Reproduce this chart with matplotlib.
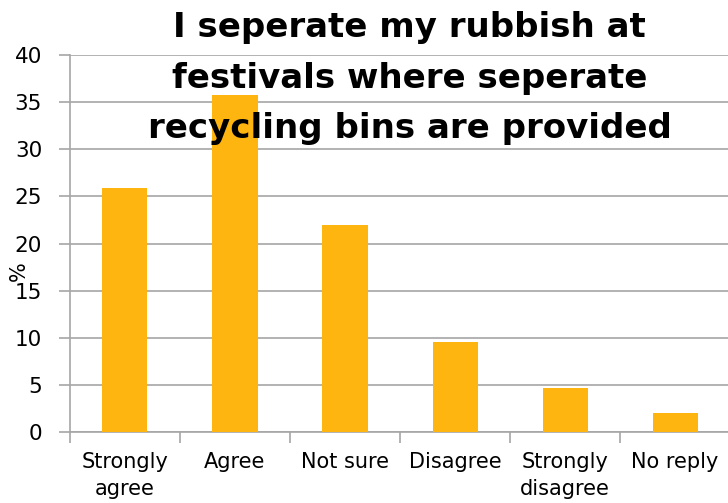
import numpy as np
import matplotlib.pyplot as plt

# survey answers (percent)
categories = ['Strongly\nagree', 'Agree', 'Not sure', 'Disagree', 'Strongly\ndisagree', 'No reply']
percent = [25.9, 35.8, 22.0, 9.6, 4.7, 2.0]
yticks = [0, 5, 10, 15, 20, 25, 30, 35, 40]

plt.rcParams['font.family'] = ['DejaVu Sans']

fig = plt.figure(figsize=(7.28, 5.03), dpi=100)
ax = fig.add_axes([0.096, 0.141, 0.907, 0.7497])

x = np.arange(len(categories))
ax.bar(x, percent, width=0.41, color='#FFB50F', zorder=3)

ax.set_xlim(-0.5, len(categories) - 0.5)
ax.set_ylim(0, 40)
ax.set_yticks(yticks)
ax.set_yticklabels([str(v) for v in yticks], fontsize=15.5)
ax.yaxis.grid(True, color='#A6A6A6', linewidth=1.2, zorder=0)

# category boundaries as tick marks, labels centered under bars
ax.set_xticks(np.arange(len(categories) + 1) - 0.5)
ax.set_xticklabels([])
ax.set_xticks(x, minor=True)
ax.set_xticklabels(categories, minor=True, fontsize=15, linespacing=1.45)
ax.tick_params(axis='x', which='minor', length=0, pad=14)
ax.tick_params(axis='x', which='major', length=8, width=1.2, color='#A6A6A6')
ax.tick_params(axis='y', length=8, width=1.2, color='#A6A6A6', pad=12)

for s in ['top', 'right']:
    ax.spines[s].set_visible(False)
for s in ['left', 'bottom']:
    ax.spines[s].set_color('#A6A6A6')
    ax.spines[s].set_linewidth(1.2)

fig.text(0.012, 0.46, '%', rotation=90, fontsize=15, va='center', ha='left')
fig.text(0.563, 0.978, 'I seperate my rubbish at\nfestivals where seperate\nrecycling bins are provided',
         ha='center', va='top', fontsize=24.5, fontweight='bold', linespacing=1.68)

fig.savefig('out.png', dpi=100)
